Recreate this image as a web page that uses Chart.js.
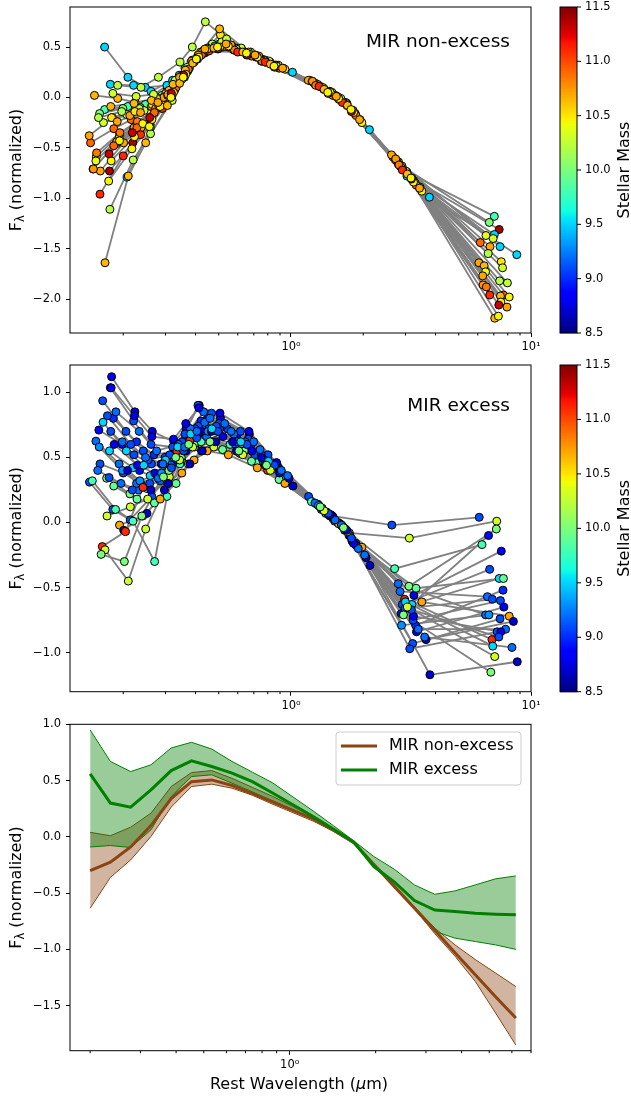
<!DOCTYPE html>
<html>
<head>
<meta charset="utf-8">
<script src="https://cdn.jsdelivr.net/npm/chart.js@4.4.1/dist/chart.umd.min.js"></script>
<style>
  html, body { margin: 0; padding: 0; background: #fff; }
  #wrap { position: relative; width: 631px; height: 1096px; }
  canvas { position: absolute; left: 0; }
</style>
</head>
<body>
<div id="wrap">
  <canvas id="c1" width="631" height="362" style="top:0px"></canvas>
  <canvas id="c2" width="631" height="365" style="top:355px"></canvas>
  <canvas id="c3" width="631" height="380" style="top:716px"></canvas>
</div>
<script>
// observed filter wavelengths (micron)
const bands = [0.44, 0.55, 0.65, 0.80, 0.90, 1.02, 1.25, 1.65, 2.15, 3.6, 4.5, 8.0, 18.5];

// MIR non-excess galaxies: redshift, log stellar mass, normalised log flux per band
const nonExcessZ = [1.63, 1.76, 1.51, 1.63, 1.85, 1.66, 1.49, 1.12, 2.01, 1.74, 1.79, 2.05, 1.90, 1.46, 1.43,
                    1.86, 1.94, 1.50, 1.32, 1.93, 1.84, 1.75, 1.41, 1.28, 1.48, 1.47, 1.52, 1.33, 1.62, 1.53];
const nonExcessMass = [9.8, 10.0, 11.4, 9.5, 10.4, 10.3, 9.5, 9.5, 10.9, 10.7, 10.2, 10.7, 10.65, 10.5, 10.3,
                       10.4, 10.7, 10.2, 10.25, 10.75, 10.85, 11.1, 10.9, 10.45, 10.65, 10.45, 11.3, 10.7, 10.65, 10.45];
const nonExcessFlux = [
  [-0.12, -0.09, -0.07, 0.07, 0.19, 0.37, 0.52, 0.47, 0.35, 0.09, -0.06, -0.74, -1.18],
  [-0.16, -0.11, -0.10, 0.02, 0.12, 0.29, 0.47, 0.48, 0.37, 0.12, -0.04, -0.68, -1.24],
  [-0.73, -0.45, -0.27, 0.01, 0.21, 0.39, 0.49, 0.43, 0.31, 0.05, -0.13, -0.80, -1.31],
  [0.50, 0.20, 0.10, 0.12, 0.22, 0.36, 0.50, 0.46, 0.34, 0.08, -0.08, -0.78, -1.36],
  [-0.59, -0.37, -0.25, -0.09, 0.05, 0.22, 0.45, 0.49, 0.38, 0.14, 0.00, -0.64, -1.37],
  [-0.25, -0.17, -0.13, 0.04, 0.16, 0.35, 0.53, 0.49, 0.36, 0.10, -0.05, -0.73, -1.40],
  [0.13, 0.12, 0.06, 0.17, 0.29, 0.42, 0.53, 0.44, 0.32, 0.06, -0.13, -0.82, -1.48],
  [-0.79, -0.30, 0.02, 0.29, 0.43, 0.51, 0.49, 0.37, 0.25, -0.06, -0.32, -0.99, -1.56],
  [-0.45, -0.31, -0.22, -0.10, 0.01, 0.14, 0.41, 0.50, 0.40, 0.17, 0.03, -0.59, -1.44],
  [-0.73, -0.45, -0.30, -0.07, 0.09, 0.27, 0.47, 0.46, 0.35, 0.11, -0.04, -0.71, -1.48],
  [-0.20, -0.14, -0.11, -0.01, 0.10, 0.27, 0.49, 0.48, 0.37, 0.13, -0.01, -0.69, -1.55],
  [-0.38, -0.20, -0.18, -0.09, 0.00, 0.15, 0.41, 0.52, 0.41, 0.17, 0.04, -0.57, -1.64],
  [0.02, -0.01, -0.05, -0.01, 0.07, 0.22, 0.46, 0.50, 0.39, 0.15, 0.01, -0.63, -1.67],
  [-0.20, -0.14, -0.07, 0.12, 0.27, 0.42, 0.62, 0.44, 0.31, 0.04, -0.15, -0.83, -1.63],
  [0.04, 0.01, 0.03, 0.17, 0.30, 0.45, 0.55, 0.45, 0.32, 0.05, -0.16, -0.85, -1.69],
  [-0.63, -0.40, -0.27, -0.10, 0.04, 0.22, 0.44, 0.47, 0.36, 0.13, -0.01, -0.66, -1.73],
  [-0.71, -0.46, -0.31, -0.12, 0.02, 0.18, 0.43, 0.50, 0.40, 0.16, 0.02, -0.62, -1.77],
  [-1.11, -0.62, -0.36, -0.03, 0.20, 0.38, 0.49, 0.43, 0.31, 0.05, -0.13, -0.81, -1.82],
  [0.12, 0.10, 0.20, 0.35, 0.50, 0.75, 0.58, 0.42, 0.29, 0.01, -0.22, -0.89, -1.84],
  [-0.71, -0.44, -0.30, -0.11, 0.03, 0.20, 0.45, 0.52, 0.41, 0.16, 0.01, -0.61, -1.86],
  [-0.55, -0.35, -0.24, -0.09, 0.04, 0.21, 0.45, 0.47, 0.36, 0.12, -0.02, -0.67, -1.88],
  [-0.96, -0.58, -0.37, -0.11, 0.07, 0.26, 0.46, 0.45, 0.35, 0.11, -0.05, -0.72, -1.96],
  [-0.48, -0.30, -0.15, 0.10, 0.28, 0.42, 0.50, 0.41, 0.29, 0.02, -0.18, -0.87, -1.96],
  [-0.43, -0.26, -0.09, 0.18, 0.35, 0.48, 0.51, 0.40, 0.28, -0.01, -0.25, -0.93, -1.98],
  [-0.09, -0.06, -0.03, 0.13, 0.27, 0.42, 0.68, 0.45, 0.32, 0.06, -0.13, -0.82, -1.97],
  [-0.63, -0.39, -0.22, 0.05, 0.23, 0.40, 0.50, 0.43, 0.31, 0.05, -0.15, -0.84, -2.03],
  [-0.56, -0.35, -0.20, 0.04, 0.22, 0.38, 0.48, 0.42, 0.30, 0.04, -0.14, -0.81, -2.06],
  [-0.24, -0.15, -0.05, 0.20, 0.36, 0.48, 0.53, 0.42, 0.29, 0.01, -0.22, -0.90, -2.08],
  [-1.64, -0.78, -0.45, -0.08, 0.14, 0.34, 0.49, 0.45, 0.33, 0.08, -0.08, -0.76, -2.19],
  [-0.83, -0.51, -0.29, 0.00, 0.20, 0.38, 0.50, 0.44, 0.31, 0.05, -0.12, -0.80, -2.17]
];

// MIR excess galaxies
const excessZ = [2.04, 1.57, 1.58, 1.78, 1.96, 1.46, 1.75, 1.51, 1.41, 1.42, 1.81, 1.68, 1.48, 1.40, 1.86,
                 1.77, 1.28, 1.49, 1.19, 1.56, 1.36, 1.47, 1.69, 1.52, 1.67, 1.22, 1.62, 1.11, 1.72];
const excessMass = [9.1, 10.3, 10.0, 8.9, 9.8, 8.8, 9.1, 9.5, 9.9, 9.0, 9.2, 9.1, 9.1, 8.8, 9.2,
                    9.3, 10.7, 9.1, 8.7, 9.1, 9.2, 8.8, 11.1, 9.1, 9.5, 9.2, 10.3, 8.7, 10.0];
const excessFlux = [
  [0.31, 0.10, 0.02, 0.20, 0.38, 0.52, 0.70, 0.72, 0.52, 0.20, 0.05, -0.02, 0.04],
  [0.05, 0.12, 0.18, 0.35, 0.48, 0.58, 0.62, 0.55, 0.42, 0.08, -0.08, -0.12, 0.01],
  [0.34, 0.22, 0.26, 0.40, 0.50, 0.60, 0.63, 0.55, 0.41, 0.07, -0.10, -0.49, -0.05],
  [0.71, 0.60, 0.40, 0.45, 0.58, 0.70, 0.80, 0.66, 0.50, 0.14, -0.02, -0.70, -0.10],
  [0.32, 0.10, 0.01, -0.30, 0.20, 0.45, 0.62, 0.60, 0.46, 0.16, 0.01, -0.355, -0.17],
  [1.12, 0.85, 0.70, 0.62, 0.72, 0.90, 0.80, 0.68, 0.45, 0.06, -0.16, -0.56, -0.22],
  [0.45, 0.38, 0.30, 0.35, 0.48, 0.60, 0.72, 0.62, 0.47, 0.13, -0.03, -0.63, -0.36],
  [0.55, 0.42, 0.36, 0.45, 0.55, 0.66, 0.70, 0.60, 0.43, 0.06, -0.14, -0.63, -0.43],
  [0.28, 0.18, 0.15, 0.30, 0.45, 0.55, 0.56, 0.47, 0.33, 0.03, -0.17, -0.505, -0.43],
  [0.80, 0.62, 0.52, 0.55, 0.66, 0.78, 0.74, 0.60, 0.42, 0.05, -0.16, -0.79, -0.52],
  [0.40, 0.30, 0.25, 0.32, 0.46, 0.58, 0.66, 0.60, 0.47, 0.14, -0.01, -0.53, -0.57],
  [0.935, 0.70, 0.55, 0.50, 0.60, 0.72, 0.84, 0.70, 0.52, 0.11, -0.05, -0.66, -0.59],
  [0.70, 0.52, 0.45, 0.50, 0.62, 0.74, 0.72, 0.62, 0.44, 0.05, -0.15, -0.75, -0.60],
  [0.60, 0.44, 0.38, 0.48, 0.60, 0.70, 0.66, 0.55, 0.38, 0.04, -0.18, -0.84, -0.65],
  [0.625, 0.45, 0.30, 0.34, 0.50, 0.62, 0.77, 0.68, 0.52, 0.15, 0.00, -0.47, -0.71],
  [0.58, 0.40, 0.32, 0.38, 0.50, 0.62, 0.70, 0.62, 0.48, 0.13, -0.02, -0.79, -0.71],
  [-0.02, 0.05, 0.18, 0.38, 0.48, 0.55, 0.52, 0.42, 0.30, -0.01, -0.19, -0.61, -0.72],
  [1.035, 0.78, 0.60, 0.58, 0.68, 0.90, 0.76, 0.64, 0.44, 0.06, -0.15, -0.93, -0.74],
  [-0.06, 0.07, 0.25, 0.55, 0.68, 0.70, 0.62, 0.50, 0.34, -0.03, -0.27, -0.90, -0.76],
  [0.82, 0.60, 0.48, 0.52, 0.62, 0.72, 0.74, 0.62, 0.45, 0.08, -0.10, -0.97, -0.84],
  [0.85, 0.70, 0.55, 0.60, 0.72, 0.85, 0.76, 0.62, 0.40, 0.02, -0.20, -0.82, -0.82],
  [1.035, 0.82, 0.66, 0.64, 0.76, 0.88, 0.84, 0.70, 0.46, 0.06, -0.16, -0.72, -0.84],
  [-0.185, -0.07, 0.27, 0.45, 0.55, 0.63, 0.62, 0.53, 0.40, 0.10, -0.06, -0.59, -0.90],
  [0.345, 0.25, 0.30, 0.42, 0.55, 0.65, 0.70, 0.60, 0.44, 0.07, -0.12, -0.67, -0.88],
  [0.77, 0.55, 0.44, 0.48, 0.58, 0.68, 0.72, 0.62, 0.47, 0.11, -0.05, -0.61, -0.95],
  [0.62, 0.50, 0.45, 0.58, 0.70, 0.80, 0.70, 0.56, 0.36, -0.02, -0.25, -0.88, -0.96],
  [-0.21, -0.45, -0.05, 0.30, 0.48, 0.58, 0.58, 0.52, 0.40, 0.09, -0.07, -0.65, -1.03],
  [0.40, 0.25, 0.30, 0.45, 0.55, 0.62, 0.55, 0.44, 0.28, -0.06, -0.33, -1.17, -1.07],
  [-0.245, -0.30, 0.05, 0.35, 0.50, 0.60, 0.62, 0.55, 0.44, 0.12, -0.04, -0.71, -1.15]
];

// stacked SEDs on a common rest-frame grid: median and 1-sigma band
const restGrid = [0.2, 0.2355, 0.2773, 0.3266, 0.3846, 0.4529, 0.5333, 0.628, 0.7396, 0.871, 1.026,
                  1.208, 1.422, 1.675, 1.972, 2.323, 2.735, 3.221, 3.793, 4.467, 5.26, 6.194];
const nonExcessMed = [-0.30, -0.225, -0.09, 0.10, 0.34, 0.49, 0.506, 0.456, 0.385, 0.31, 0.235,
                      0.16, 0.06, -0.05, -0.245, -0.44, -0.635, -0.83, -1.03, -1.226, -1.42, -1.61];
const nonExcessHi = [0.04, 0.01, 0.086, 0.21, 0.447, 0.571, 0.589, 0.52, 0.44, 0.36, 0.27,
                     0.18, 0.07, -0.04, -0.24, -0.43, -0.62, -0.81, -0.96, -1.09, -1.21, -1.33];
const nonExcessLo = [-0.635, -0.36, -0.205, 0.003, 0.264, 0.447, 0.468, 0.432, 0.37, 0.29, 0.215,
                     0.14, 0.05, -0.06, -0.25, -0.445, -0.64, -0.86, -1.06, -1.285, -1.565, -1.85];
const excessMed = [0.56, 0.30, 0.264, 0.417, 0.589, 0.675, 0.625, 0.566, 0.49, 0.39, 0.285,
                   0.18, 0.07, -0.045, -0.264, -0.40, -0.566, -0.65, -0.663, -0.678, -0.687, -0.693];
const excessHi = [0.95, 0.67, 0.58, 0.64, 0.79, 0.84, 0.78, 0.67, 0.575, 0.48, 0.355,
                  0.23, 0.10, -0.035, -0.175, -0.287, -0.427, -0.51, -0.48, -0.427, -0.373, -0.347];
const excessLo = [-0.09, -0.077, -0.095, 0.062, 0.358, 0.536, 0.551, 0.477, 0.40, 0.32, 0.24,
                  0.16, 0.06, -0.05, -0.25, -0.44, -0.63, -0.84, -0.90, -0.93, -0.96, -1.0];

const xTickValues = [0.2, 0.3, 0.4, 0.5, 0.6, 0.7, 0.8, 0.9, 1, 2, 3, 4, 5, 6, 7, 8, 9, 10];
const massTicks = [8.5, 9.0, 9.5, 10.0, 10.5, 11.0, 11.5];
const MASS_MIN = 8.5, MASS_MAX = 11.5;

const BROWN = '#8b4513', GREEN = '#008000';
const FONT = '"DejaVu Sans", sans-serif';

Chart.defaults.font.family = FONT;
Chart.defaults.color = '#000';

// matplotlib 'jet'
function jet(t) {
  t = Math.min(1, Math.max(0, t));
  const seg = pts => {
    for (let i = 1; i < pts.length; i++) {
      if (t <= pts[i][0]) {
        const [x0, y0] = pts[i - 1], [x1, y1] = pts[i];
        return y0 + (y1 - y0) * (t - x0) / (x1 - x0);
      }
    }
    return pts[pts.length - 1][1];
  };
  const r = seg([[0, 0], [0.35, 0], [0.66, 1], [0.89, 1], [1, 0.5]]);
  const g = seg([[0, 0], [0.125, 0], [0.375, 1], [0.64, 1], [0.91, 0], [1, 0]]);
  const b = seg([[0, 0.5], [0.11, 1], [0.34, 1], [0.65, 0], [1, 0]]);
  return `rgb(${Math.round(r * 255)},${Math.round(g * 255)},${Math.round(b * 255)})`;
}

// one grey polyline per galaxy, then all photometry points coloured by mass
function sedDatasets(zs, masses, fluxes) {
  const lines = [], pts = [], cols = [];
  zs.forEach((z, g) => {
    const seg = bands.map((b, k) => ({ x: b / (1 + z), y: fluxes[g][k] }));
    lines.push({ data: seg, showLine: true, borderColor: '#808080', borderWidth: 1.8,
                 pointRadius: 0, order: 2 });
    const c = jet((masses[g] - MASS_MIN) / (MASS_MAX - MASS_MIN));
    seg.forEach(p => { pts.push(p); cols.push(c); });
  });
  lines.push({ data: pts, backgroundColor: cols, pointBackgroundColor: cols, pointRadius: 4,
               pointBorderColor: '#000', pointBorderWidth: 1, showLine: false, order: 1 });
  return lines;
}

function yAxis(min, max, ticks) {
  return {
    min, max, bounds: 'data',
    afterBuildTicks: s => { s.ticks = ticks.map(v => ({ value: v })); },
    afterFit: s => { s.width = 70; s.paddingTop = 0; s.paddingBottom = 0; },
    grid: { drawOnChartArea: false, drawTicks: true, tickLength: 4, tickColor: '#000', tickWidth: 1 },
    border: { display: false },
    ticks: { padding: 5, font: { size: 11.5 }, color: '#000',
             callback: v => v.toFixed(1).replace('-', '\u2212') }
  };
}

function xAxis(min, max, h) {
  return {
    type: 'logarithmic', min, max, bounds: 'data',
    afterBuildTicks: s => {
      s.ticks = xTickValues.filter(v => v >= min && v <= max)
        .map(v => ({ value: v, major: v === 1 || v === 10 }));
    },
    afterFit: s => { s.height = h; s.paddingLeft = 0; s.paddingRight = 0; },
    grid: { drawOnChartArea: false, drawTicks: true, tickLength: 4, tickWidth: 1,
            tickColor: c => (c.tick && c.tick.major) ? '#000' : 'rgba(0,0,0,0)' },
    border: { display: false },
    ticks: { autoSkip: false, maxRotation: 0, minRotation: 0, padding: 3, font: { size: 11.5 }, color: '#000',
             callback: v => v === 1 ? '10\u2070' : (v === 10 ? '10\u00b9' : '') }
  };
}

function drawYTitle(ctx, x, yc) {
  ctx.save();
  ctx.translate(x, yc);
  ctx.rotate(-Math.PI / 2);
  ctx.fillStyle = '#000';
  ctx.textBaseline = 'middle';
  ctx.textAlign = 'left';
  const big = '16px ' + FONT, small = '11.5px ' + FONT;
  ctx.font = big;
  const wF = ctx.measureText('F').width, wRest = ctx.measureText(' (normalized)').width;
  ctx.font = small;
  const wL = ctx.measureText('\u03bb').width;
  const x0 = -(wF + wL + wRest) / 2;
  ctx.font = big; ctx.fillText('F', x0, 0);
  ctx.font = small; ctx.fillText('\u03bb', x0 + wF, 4);
  ctx.font = big; ctx.fillText(' (normalized)', x0 + wF + wL, 0);
  ctx.restore();
}

function drawColorbar(ctx, area) {
  const x0 = 560, w = 17, top = area.top, bot = area.bottom, h = bot - top;
  for (let y = 0; y < h; y++) {
    ctx.fillStyle = jet(1 - (y + 0.5) / h);
    ctx.fillRect(x0, top + y, w, 1.2);
  }
  ctx.strokeStyle = '#000';
  ctx.lineWidth = 1;
  ctx.strokeRect(x0, top, w, h);
  ctx.fillStyle = '#000';
  ctx.font = '11.5px ' + FONT;
  ctx.textAlign = 'left';
  ctx.textBaseline = 'middle';
  massTicks.forEach(v => {
    const y = bot - (v - MASS_MIN) / (MASS_MAX - MASS_MIN) * h;
    ctx.beginPath();
    ctx.moveTo(x0 + w, y); ctx.lineTo(x0 + w + 4, y);
    ctx.stroke();
    ctx.fillText(v.toFixed(1), x0 + w + 8, y);
  });
  ctx.save();
  ctx.translate(625, (top + bot) / 2);
  ctx.rotate(-Math.PI / 2);
  ctx.font = '16px ' + FONT;
  ctx.textAlign = 'center';
  ctx.fillText('Stellar Mass', 0, 0);
  ctx.restore();
}

function drawLegend(ctx) {
  const x = 336, y = 16, w = 185, h = 53, r = 3;
  ctx.save();
  ctx.beginPath();
  ctx.moveTo(x + r, y); ctx.lineTo(x + w - r, y); ctx.arcTo(x + w, y, x + w, y + r, r);
  ctx.lineTo(x + w, y + h - r); ctx.arcTo(x + w, y + h, x + w - r, y + h, r);
  ctx.lineTo(x + r, y + h); ctx.arcTo(x, y + h, x, y + h - r, r);
  ctx.lineTo(x, y + r); ctx.arcTo(x, y, x + r, y, r);
  ctx.closePath();
  ctx.fillStyle = 'rgba(255,255,255,0.8)';
  ctx.fill();
  ctx.strokeStyle = '#cccccc';
  ctx.lineWidth = 1;
  ctx.stroke();
  [['MIR non-excess', BROWN, 30], ['MIR excess', GREEN, 54]].forEach(([label, col, ly]) => {
    ctx.strokeStyle = col;
    ctx.lineWidth = 3;
    ctx.beginPath(); ctx.moveTo(341, ly); ctx.lineTo(377, ly); ctx.stroke();
    ctx.fillStyle = '#000';
    ctx.font = '16px ' + FONT;
    ctx.textAlign = 'left';
    ctx.textBaseline = 'middle';
    ctx.fillText(label, 389, ly);
  });
  ctx.restore();
}

function drawXTitle(ctx, xc, y) {
  const parts = [['Rest Wavelength (', '16px ' + FONT], ['\u03bc', 'italic 16px ' + FONT], ['m)', '16px ' + FONT]];
  let total = 0;
  parts.forEach(p => { ctx.font = p[1]; total += ctx.measureText(p[0]).width; });
  let x = xc - total / 2;
  ctx.fillStyle = '#000';
  ctx.textAlign = 'left';
  ctx.textBaseline = 'middle';
  parts.forEach(p => { ctx.font = p[1]; ctx.fillText(p[0], x, y); x += ctx.measureText(p[0]).width; });
}

// frame, minor ticks, titles, colour bar, legend
const decor = {
  id: 'decor',
  afterDraw(chart, args, opts) {
    const ctx = chart.ctx, a = chart.chartArea, xs = chart.scales.x;
    ctx.save();
    ctx.strokeStyle = '#000';
    ctx.lineWidth = 1;
    ctx.strokeRect(a.left, a.top, a.right - a.left, a.bottom - a.top);
    xTickValues.forEach(v => {
      if (v === 1 || v === 10 || v < xs.min || v > xs.max) return;
      const x = xs.getPixelForValue(v);
      ctx.beginPath(); ctx.moveTo(x, a.bottom); ctx.lineTo(x, a.bottom + 2.5); ctx.stroke();
    });
    drawYTitle(ctx, 17, (a.top + a.bottom) / 2);
    if (opts.label) {
      ctx.fillStyle = '#000';
      ctx.font = '18.5px ' + FONT;
      ctx.textAlign = 'right';
      ctx.textBaseline = 'middle';
      ctx.fillText(opts.label, 510, opts.labelY);
    }
    if (opts.colorbar) drawColorbar(ctx, a);
    if (opts.legend) drawLegend(ctx);
    if (opts.xTitle) drawXTitle(ctx, 299, opts.xTitleY);
    ctx.restore();
  }
};

function baseOptions(padTop, decorOpts, scales) {
  return {
    responsive: false, animation: false, events: [],
    layout: { padding: { top: padTop, right: 100, left: 0, bottom: 0 } },
    plugins: { legend: { display: false }, tooltip: { enabled: false }, decor: decorOpts },
    scales
  };
}

new Chart(document.getElementById('c1'), {
  type: 'scatter',
  data: { datasets: sedDatasets(nonExcessZ, nonExcessMass, nonExcessFlux) },
  options: baseOptions(7, { label: 'MIR non-excess', labelY: 42, colorbar: true },
    { x: xAxis(0.12, 10, 29), y: yAxis(-2.337, 0.897, [0.5, 0, -0.5, -1, -1.5, -2]) }),
  plugins: [decor]
});

new Chart(document.getElementById('c2'), {
  type: 'scatter',
  data: { datasets: sedDatasets(excessZ, excessMass, excessFlux) },
  options: baseOptions(10, { label: 'MIR excess', labelY: 50.7, colorbar: true },
    { x: xAxis(0.12, 10, 28.3), y: yAxis(-1.30, 1.21, [1, 0.5, 0, -0.5, -1]) }),
  plugins: [decor]
});

const pts = ys => restGrid.map((x, i) => ({ x, y: ys[i] }));
new Chart(document.getElementById('c3'), {
  type: 'line',
  data: {
    datasets: [
      { label: 'MIR excess', data: pts(excessMed), borderColor: GREEN, borderWidth: 3, pointRadius: 0, fill: false, order: 0 },
      { label: 'MIR non-excess', data: pts(nonExcessMed), borderColor: BROWN, borderWidth: 3, pointRadius: 0, fill: false, order: 1 },
      { data: pts(excessHi), borderColor: GREEN, borderWidth: 1, pointRadius: 0, fill: '+1', backgroundColor: 'rgba(0,128,0,0.4)', order: 2 },
      { data: pts(excessLo), borderColor: GREEN, borderWidth: 1, pointRadius: 0, fill: false, order: 2 },
      { data: pts(nonExcessHi), borderColor: BROWN, borderWidth: 1, pointRadius: 0, fill: '+1', backgroundColor: 'rgba(139,69,19,0.4)', order: 3 },
      { data: pts(nonExcessLo), borderColor: BROWN, borderWidth: 1, pointRadius: 0, fill: false, order: 3 }
    ]
  },
  options: baseOptions(8.3, { legend: true, xTitle: true, xTitleY: 369 },
    { x: xAxis(0.17, 7.0, 45.3), y: yAxis(-1.9, 1.0, [1, 0.5, 0, -0.5, -1, -1.5]) }),
  plugins: [decor]
});
</script>
</body>
</html>
